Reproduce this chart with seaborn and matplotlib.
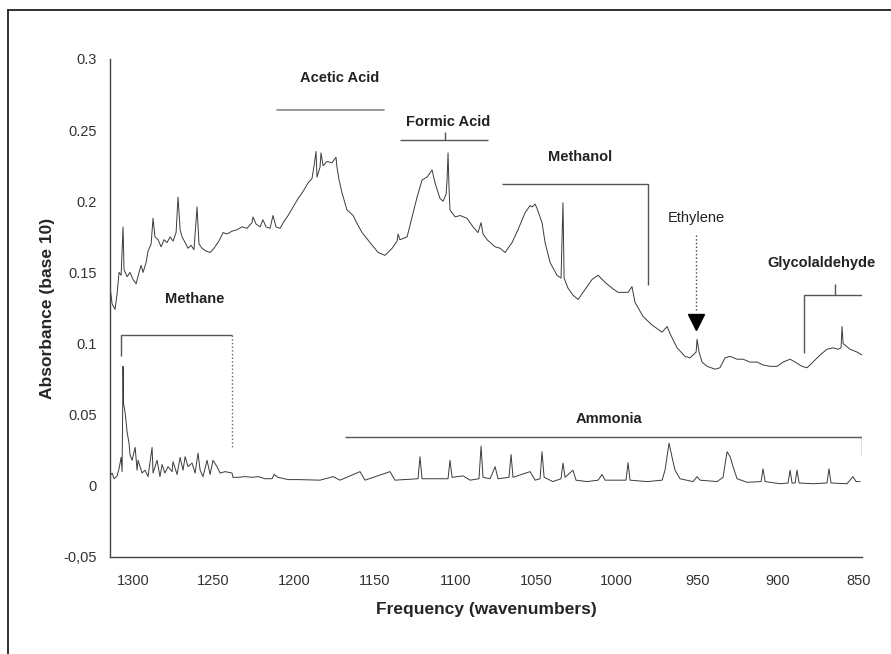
import numpy as np
import pandas as pd
import matplotlib
matplotlib.use("Agg")
import matplotlib.pyplot as plt
from matplotlib.lines import Line2D
import seaborn as sns

# upper trace (wavenumber, absorbance)
upper_wn = [1314.3, 1313.0, 1311.2, 1309.9, 1308.7, 1307.4, 1306.2, 1305.6, 1303.7, 1301.9,
            1300.0, 1298.1, 1296.3, 1295.0, 1293.8, 1291.9, 1290.7, 1288.8, 1287.6, 1286.4,
            1284.5, 1282.6, 1280.8, 1278.9, 1277.0, 1275.2, 1273.3, 1272.1, 1270.8, 1269.6,
            1267.7, 1265.9, 1264.0, 1262.2, 1260.3, 1259.1, 1257.2, 1254.7, 1252.2, 1249.8,
            1247.3, 1245.4, 1244.2, 1241.7, 1238.6, 1235.5, 1232.4, 1229.3, 1226.2, 1225.6,
            1223.7, 1221.2, 1219.4, 1217.5, 1215.0, 1213.2, 1211.3, 1208.8, 1206.3, 1203.8,
            1200.7, 1197.6, 1194.5, 1191.4, 1189.0, 1187.7, 1186.5, 1185.9, 1184.0, 1183.4,
            1182.1, 1179.7, 1176.6, 1174.1, 1173.5, 1172.2, 1170.4, 1167.3, 1163.5, 1160.4,
            1157.9, 1153.0, 1148.0, 1143.7, 1139.3, 1136.2, 1135.6, 1134.4, 1130.0, 1126.9,
            1123.8, 1120.7, 1117.6, 1114.5, 1112.7, 1109.6, 1107.7, 1105.8, 1105.2, 1104.6,
            1104.0, 1103.4, 1100.2, 1097.1, 1092.8, 1089.1, 1086.0, 1084.1, 1082.9, 1080.4,
            1075.4, 1072.3, 1069.2, 1064.9, 1061.2, 1056.8, 1053.7, 1052.5, 1050.6, 1049.4,
            1046.3, 1044.4, 1041.3, 1037.0, 1034.5, 1033.3, 1032.6, 1030.2, 1027.1, 1023.9,
            1019.6, 1015.3, 1011.5, 1007.2, 1002.9, 999.1, 992.9, 990.5, 988.6, 983.6,
            978.0, 971.8, 968.7, 966.9, 962.5, 957.6, 954.5, 950.7, 950.1, 948.9,
            947.0, 943.9, 938.9, 935.9, 932.8, 929.6, 925.3, 921.6, 917.3, 912.9,
            909.2, 904.9, 900.5, 896.8, 892.4, 889.3, 885.0, 881.9, 878.2, 873.8,
            869.5, 865.8, 862.6, 860.8, 860.2, 859.5, 855.2, 850.8, 847.8]
upper_abs = [0.140, 0.128, 0.124, 0.135, 0.150, 0.148, 0.182, 0.152, 0.147, 0.150,
             0.145, 0.142, 0.150, 0.155, 0.150, 0.157, 0.165, 0.170, 0.188, 0.175,
             0.173, 0.168, 0.173, 0.171, 0.175, 0.172, 0.178, 0.203, 0.180, 0.175,
             0.171, 0.167, 0.169, 0.166, 0.196, 0.170, 0.167, 0.165, 0.164, 0.167,
             0.171, 0.175, 0.178, 0.177, 0.179, 0.180, 0.182, 0.181, 0.185, 0.189,
             0.184, 0.182, 0.187, 0.182, 0.181, 0.190, 0.182, 0.181, 0.186, 0.190,
             0.196, 0.202, 0.207, 0.213, 0.216, 0.225, 0.235, 0.217, 0.224, 0.234,
             0.225, 0.228, 0.227, 0.231, 0.224, 0.215, 0.206, 0.194, 0.190, 0.183,
             0.178, 0.171, 0.164, 0.162, 0.167, 0.172, 0.177, 0.173, 0.175, 0.189,
             0.203, 0.215, 0.217, 0.222, 0.213, 0.202, 0.200, 0.205, 0.215, 0.234,
             0.210, 0.194, 0.189, 0.190, 0.188, 0.182, 0.178, 0.185, 0.177, 0.173,
             0.168, 0.167, 0.164, 0.171, 0.180, 0.192, 0.197, 0.196, 0.198, 0.195,
             0.185, 0.171, 0.157, 0.148, 0.146, 0.199, 0.146, 0.139, 0.134, 0.131,
             0.138, 0.145, 0.148, 0.143, 0.139, 0.136, 0.136, 0.140, 0.129, 0.119,
             0.113, 0.108, 0.112, 0.107, 0.097, 0.091, 0.090, 0.094, 0.103, 0.094,
             0.087, 0.084, 0.082, 0.083, 0.090, 0.091, 0.089, 0.089, 0.087, 0.087,
             0.085, 0.084, 0.084, 0.087, 0.089, 0.087, 0.084, 0.083, 0.087, 0.092,
             0.096, 0.097, 0.096, 0.097, 0.112, 0.100, 0.096, 0.094, 0.092]

# lower trace (methane / ammonia region)
lower_wn = [1314.3, 1313.0, 1311.8, 1309.9, 1308.7, 1307.4, 1306.8, 1306.2, 1305.9, 1305.0,
            1304.3, 1303.7, 1302.5, 1301.9, 1300.6, 1298.7, 1297.5, 1296.9, 1294.4, 1292.6,
            1290.7, 1288.2, 1287.6, 1285.1, 1283.3, 1282.0, 1280.2, 1278.3, 1275.8, 1275.2,
            1272.7, 1270.8, 1269.0, 1267.7, 1265.9, 1263.4, 1261.5, 1259.7, 1258.4, 1256.6,
            1254.1, 1252.2, 1250.4, 1247.9, 1246.0, 1242.9, 1238.6, 1238.0, 1234.9, 1230.5,
            1226.2, 1222.4, 1218.1, 1213.8, 1212.5, 1210.1, 1203.8, 1197.6, 1184.0, 1175.9,
            1171.6, 1159.2, 1156.1, 1140.6, 1137.5, 1123.2, 1122.0, 1120.7, 1104.6, 1103.4,
            1102.1, 1095.3, 1090.9, 1085.4, 1084.1, 1082.9, 1078.5, 1075.4, 1073.6, 1066.8,
            1065.5, 1064.3, 1053.7, 1050.6, 1047.5, 1046.3, 1045.0, 1039.5, 1034.5, 1033.3,
            1032.0, 1027.1, 1025.2, 1018.4, 1011.5, 1009.1, 1007.2, 994.2, 992.9, 991.7,
            981.1, 971.8, 970.0, 967.5, 965.6, 963.8, 960.7, 952.6, 950.1, 948.3,
            937.7, 934.0, 931.5, 929.6, 927.8, 925.3, 919.1, 910.4, 909.2, 907.9,
            898.6, 893.7, 892.4, 891.2, 889.3, 888.1, 886.8, 878.2, 869.5, 868.3,
            867.0, 857.1, 853.4, 851.5, 849.0]
lower_abs = [0.007, 0.009, 0.005, 0.007, 0.012, 0.020, 0.010, 0.084, 0.058, 0.052,
             0.045, 0.038, 0.030, 0.022, 0.018, 0.027, 0.011, 0.018, 0.009, 0.011,
             0.0065, 0.027, 0.009, 0.018, 0.0065, 0.015, 0.009, 0.0135, 0.010, 0.017,
             0.008, 0.020, 0.011, 0.0205, 0.0135, 0.016, 0.009, 0.023, 0.011, 0.0065,
             0.018, 0.008, 0.018, 0.0135, 0.009, 0.010, 0.009, 0.006, 0.006, 0.0065,
             0.006, 0.0065, 0.005, 0.005, 0.008, 0.006, 0.0044, 0.0044, 0.004, 0.0065,
             0.004, 0.010, 0.004, 0.010, 0.004, 0.005, 0.0205, 0.005, 0.005, 0.018,
             0.006, 0.007, 0.004, 0.005, 0.028, 0.006, 0.005, 0.0135, 0.005, 0.006,
             0.022, 0.006, 0.010, 0.004, 0.005, 0.024, 0.006, 0.003, 0.005, 0.016,
             0.006, 0.011, 0.004, 0.003, 0.004, 0.008, 0.004, 0.004, 0.0163, 0.004,
             0.003, 0.004, 0.011, 0.030, 0.020, 0.011, 0.005, 0.003, 0.0065, 0.004,
             0.003, 0.006, 0.024, 0.0205, 0.0135, 0.005, 0.0025, 0.003, 0.012, 0.003,
             0.0015, 0.002, 0.011, 0.002, 0.002, 0.011, 0.002, 0.0015, 0.002, 0.012,
             0.002, 0.0015, 0.0065, 0.003, 0.003]

x_ticks = [1300, 1250, 1200, 1150, 1100, 1050, 1000, 950, 900, 850]
y_ticks = [-0.05, 0, 0.05, 0.1, 0.15, 0.2, 0.25, 0.3]
y_tick_labels = ["-0,05", "0", "0.05", "0.1", "0.15", "0.2", "0.25", "0.3"]

# label name, x (wavenumber), y (absorbance), bold?
labels = [("Acetic Acid", 1171.9, 0.2867, True),
          ("Formic Acid", 1104.3, 0.2558, True),
          ("Methanol", 1023.0, 0.2312, True),
          ("Ethylene", 950.4, 0.1884, False),
          ("Glycolaldehyde", 872.9, 0.1567, True),
          ("Methane", 1261.5, 0.1315, True),
          ("Ammonia", 1004.7, 0.0472, True)]

sns.set_style("white")
plt.rcParams['font.family'] = ['Liberation Sans', 'DejaVu Sans']

fig = plt.figure(figsize=(8.91, 6.54), dpi=100)
ax = fig.add_axes([110/891, 1 - 557/654, (862 - 110)/891, (557 - 59)/654])

up = pd.DataFrame({"wn": upper_wn, "A": upper_abs})
lo = pd.DataFrame({"wn": lower_wn, "A": lower_abs})
sns.lineplot(data=up, x="wn", y="A", ax=ax, color="#3a3a3a", lw=0.7,
             estimator=None, sort=False)
sns.lineplot(data=lo, x="wn", y="A", ax=ax, color="#3a3a3a", lw=0.7,
             estimator=None, sort=False)

ax.set_xlim(1314.3, 847.8)
ax.set_ylim(-0.05, 0.3)
ax.set_xticks(x_ticks)
ax.set_xticklabels([str(t) for t in x_ticks])
ax.set_yticks(y_ticks)
ax.set_yticklabels(y_tick_labels)
ax.tick_params(axis="both", direction="inout", length=9, width=1,
               color="#444444", labelsize=10.5, labelcolor="#333333", pad=5)
ax.tick_params(axis="x", pad=8)
for s in ["top", "right"]:
    ax.spines[s].set_visible(False)
for s in ["left", "bottom"]:
    ax.spines[s].set_color("#444444")
    ax.spines[s].set_linewidth(1.0)
ax.patch.set_alpha(0)

ax.set_xlabel("Frequency (wavenumbers)", fontsize=12.5, fontweight="bold", labelpad=10)
ax.set_ylabel("Absorbance (base 10)", fontsize=12.5, fontweight="bold", labelpad=6)

for txt, x, y, bold in labels:
    ax.text(x, y, txt, ha="center", va="center", fontsize=10.5,
            fontweight="bold" if bold else "normal", color="#222222")

br = dict(color="#555555", lw=1.0, solid_capstyle="butt")
# Acetic acid
ax.plot([1210.7, 1144.3], [0.264, 0.264], color="#888888", lw=1.2)
# Formic acid
ax.plot([1134.4, 1079.8], [0.243, 0.243], **br)
ax.plot([1106.4, 1106.4], [0.243, 0.249], **br)
# Methanol
ax.plot([1071.1, 980.5, 980.5], [0.212, 0.212, 0.1413], **br)
# Ethylene arrow
ax.plot([950.7, 950.7], [0.1764, 0.1237], color="#444444", lw=1.0, ls=":")
ax.plot([950.7], [0.1150], marker="v", ms=12, color="black", ls="none")
# Glycolaldehyde
ax.plot([883.7, 883.7, 847.1, 847.1], [0.0935, 0.1343, 0.1343, 0.0935], **br)
ax.plot([864.5, 864.5], [0.1343, 0.142], **br)
# Methane
ax.plot([1307.4, 1307.4, 1238.6], [0.0914, 0.1062, 0.1062], **br)
ax.plot([1238.6, 1238.6], [0.1062, 0.0275], color="#666666", lw=1.0, ls=":")
# Ammonia
ax.plot([1168.5, 847.8, 847.8], [0.0346, 0.0346, 0.0219], **br)

# outer frame (top and left edges visible in the scan)
fig.add_artist(Line2D([8/891, 1], [1 - 10/654, 1 - 10/654], transform=fig.transFigure,
                      color="#222222", lw=1.3))
fig.add_artist(Line2D([8/891, 8/891], [0, 1 - 10/654], transform=fig.transFigure,
                      color="#222222", lw=1.3))

fig.savefig("out.png", dpi=100)
